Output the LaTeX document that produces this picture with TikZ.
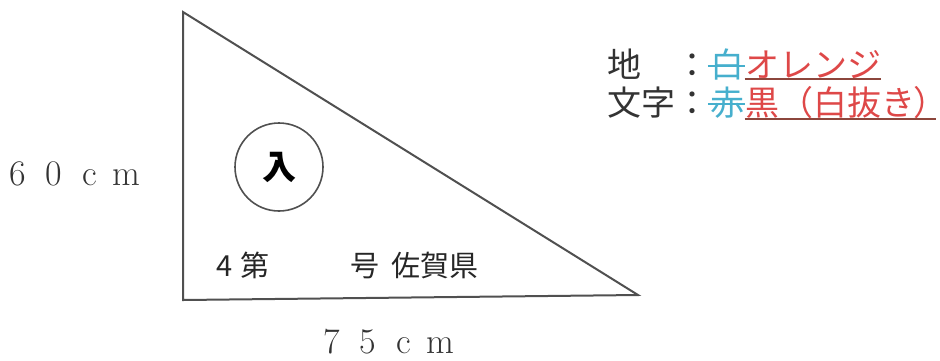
\documentclass[tikz,border=0pt]{standalone}
\usepackage{fontspec}
\newfontfamily\jp{Noto Sans CJK JP}
\usepackage{tikz}
\usetikzlibrary{positioning}
\definecolor{oldcyan}{RGB}{70,175,205}
\definecolor{newred}{RGB}{222,72,72}
\definecolor{ink}{RGB}{80,80,80}
\definecolor{ruleink}{RGB}{140,70,60}
\newcommand{\fw}[1]{\makebox[18pt]{#1}} % one full-width cell
\tikzset{x=0.5pt, y=-0.5pt,         % 1 unit = 1 pixel of the drawing
         every node/.style={inner sep=0pt},
         sign/.style={draw=ink, line width=1pt},          % the triangle
         badge/.style={circle, draw=ink, line width=0.8pt, % circled mark
           minimum size=44pt,
           font=\jp\bfseries\fontsize{17pt}{17pt}\selectfont},
         signtext/.style={font=\jp\fontsize{14.5pt}{14.5pt}\selectfont, text=black!85},
         dim/.style={font=\fontsize{18pt}{18pt}\selectfont, text=black!80},
         legend/.style={font=\jp\fontsize{17pt}{17pt}\selectfont, text=black!80},
         strike/.style={draw=oldcyan, line width=0.8pt},  % crossed out
         underline/.style={draw=ruleink, line width=1pt}}

\begin{document}
\begin{tikzpicture}
\useasboundingbox (0,0) rectangle (940,360);

% triangle
\coordinate (apex) at (183,12);
\coordinate (corner) at (183,300);
\coordinate (tip) at (638,295);
\draw[sign] (apex) -- (corner) -- (tip) -- cycle;

\node[badge] (entry) at (279,167) {入};
\node[signtext, anchor=base west] (num) at (216,276) {4\hspace{4pt}第};
\node[signtext, anchor=base west] (pref) at (350,276) {号\hspace{6pt}佐賀県};

% sizes
\node[dim] (height) at (72,174) {\fw6\fw0\fw c\fw m};
\node[dim] (width) at (386,342) {\fw7\fw5\fw c\fw m};

% colour notes
\node[legend, anchor=base west] (groundkey) at (607,77) {地　：};
\node[legend, text=oldcyan, base right=0pt of groundkey] (groundold) {白};
\node[legend, text=newred, base right=0pt of groundold] (groundnew) {オレンジ};
\node[legend, anchor=base west] (letterkey) at (607,115) {文字：};
\node[legend, text=oldcyan, base right=0pt of letterkey] (letterold) {赤};
\node[legend, text=newred, base right=0pt of letterold] (letternew) {黒（白抜き{\addfontfeature{RawFeature=+palt}）}};

\draw[strike] ([shift={(-2,2)}]groundold.west) -- ([yshift=-1pt]groundold.east);
\draw[strike] ([shift={(-2,2)}]letterold.west) -- ([yshift=-1pt]letterold.east);
\draw[underline] (groundnew.south west) -- (groundnew.south east);
\draw[underline] (letternew.south west) -- ([xshift=2pt]letternew.south east);
\end{tikzpicture}
\end{document}
